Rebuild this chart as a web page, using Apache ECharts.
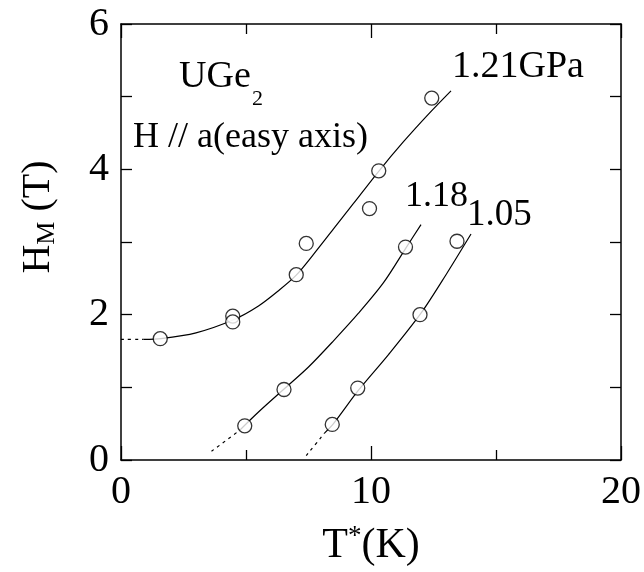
<!DOCTYPE html>
<html>
<head>
<meta charset="utf-8">
<script src="https://cdn.jsdelivr.net/npm/echarts@6/dist/echarts.min.js"></script>
<style>html,body{margin:0;padding:0;background:#fff}#c{width:644px;height:572px}</style>
</head>
<body>
<div id="c"></div>
<script>
// measured points (T*, H_M)
var t121 = [1.57, 4.47, 4.47, 7.01, 7.41, 9.94, 10.31, 12.43];
var h121 = [1.67, 1.98, 1.90, 2.55, 2.98, 3.46, 3.98, 4.98];
var t118 = [4.95, 6.52, 11.38];
var h118 = [0.47, 0.97, 2.93];
var t105 = [8.45, 9.47, 11.96, 13.44];
var h105 = [0.49, 0.99, 2.00, 3.01];

// guide curves
var c121T = [0.9, 1.6, 3.0, 4.5, 5.5, 6.3, 7.0, 7.7, 8.5, 9.3, 10.3, 11.3, 12.3, 13.2];
var c121H = [1.66, 1.67, 1.75, 1.93, 2.12, 2.33, 2.54, 2.83, 3.18, 3.53, 3.97, 4.38, 4.76, 5.08];
var d121T = [0.0, 0.9];
var d121H = [1.66, 1.66];

var c118T = [4.75, 5.5, 6.5, 7.5, 8.5, 9.5, 10.5, 11.4, 12.0];
var c118H = [0.41, 0.66, 0.97, 1.28, 1.64, 2.02, 2.44, 2.92, 3.24];
var d118T = [3.62, 4.75];
var d118H = [0.12, 0.41];

var c105T = [8.14, 8.5, 9.5, 10.7, 12.0, 13.0, 14.0];
var c105H = [0.37, 0.50, 0.96, 1.45, 2.02, 2.55, 3.11];
var d105T = [7.41, 8.14];
var d105H = [0.06, 0.37];

var xTicks = [0, 10, 20];
var yTicks = [0, 2, 4, 6];

function pairs(a, b) { return a.map(function (v, i) { return [v, b[i]]; }); }

var FONT = '"Liberation Serif", "DejaVu Serif", serif';
var chart = echarts.init(document.getElementById('c'), null, {renderer: 'canvas'});

function xAx(pos, labels) {
  return {
    type: 'value', position: pos, min: xTicks[0], max: xTicks[xTicks.length - 1], interval: 10,
    axisLine: {show: true, onZero: false, lineStyle: {color: '#000', width: 1.5}},
    axisTick: {show: true, inside: true, length: 14, lineStyle: {color: '#000', width: 1.3}},
    minorTick: {show: true, splitNumber: 2, length: 10, lineStyle: {color: '#000', width: 1.3}},
    splitLine: {show: false},
    axisLabel: {show: labels, color: '#000', fontFamily: FONT, fontSize: 40, margin: 12},
    name: labels ? '{b|T}{sup|*}{b|(K)}' : '',
    nameLocation: 'middle', nameGap: 63,
    nameTextStyle: {rich: {
      b: {fontFamily: FONT, fontSize: 42, color: '#000', lineHeight: 46},
      sup: {fontFamily: FONT, fontSize: 27, color: '#000', verticalAlign: 'top', lineHeight: 27}
    }}
  };
}
function yAx(pos, labels) {
  return {
    type: 'value', position: pos, min: yTicks[0], max: yTicks[yTicks.length - 1], interval: 2,
    axisLine: {show: true, onZero: false, lineStyle: {color: '#000', width: 1.5}},
    axisTick: {show: true, inside: true, length: 11, lineStyle: {color: '#000', width: 1.3}},
    minorTick: {show: true, splitNumber: 2, length: 11, lineStyle: {color: '#000', width: 1.3}},
    splitLine: {show: false},
    axisLabel: {show: labels, color: '#000', fontFamily: FONT, fontSize: 40, margin: 12}
  };
}

function curve(T, H, dashed) {
  return {
    type: 'line', data: pairs(T, H), smooth: 0.3, symbol: 'none', silent: true,
    lineStyle: {color: '#000', width: 1.2, type: dashed ? [3, 4] : 'solid'}, z: 2
  };
}
function pts(T, H) {
  return {
    type: 'scatter', data: pairs(T, H), symbol: 'circle', symbolSize: 14,
    itemStyle: {color: '#fff', borderColor: '#000', borderWidth: 1.3}, z: 5
  };
}

var option = {
  backgroundColor: '#fff',
  animation: false,
  grid: {left: 121, right: 22, top: 24, bottom: 109, containLabel: false},
  xAxis: [xAx('bottom', true), xAx('top', false)],
  yAxis: [yAx('left', true), yAx('right', false)],
  series: [
    curve(d121T, d121H, true), curve(c121T, c121H, false),
    curve(d118T, d118H, true), curve(c118T, c118H, false),
    curve(d105T, d105H, true), curve(c105T, c105H, false),
    pts(t121, h121), pts(t118, h118), pts(t105, h105)
  ],
  graphic: [
    {type: 'text', x: 38, y: 217, rotation: Math.PI / 2, style: {
      text: '{b|H}{sub|M}{b| (T)}', align: 'center', verticalAlign: 'middle', rich: {
        b: {fontFamily: FONT, fontSize: 40, fill: '#000', lineHeight: 44},
        sub: {fontFamily: FONT, fontSize: 26, fill: '#000', verticalAlign: 'bottom', lineHeight: 26}
      }}},
    {type: 'text', left: 179, top: 58, style: {
      text: 'UGe', font: '38px ' + FONT, fill: '#000'}},
    {type: 'text', left: 252, top: 88, style: {
      text: '2', font: '22px ' + FONT, fill: '#000'}},
    {type: 'text', left: 133, top: 120, style: {
      text: 'H // a(easy axis)', font: '36px ' + FONT, fill: '#000'}},
    {type: 'text', left: 452, top: 48, style: {
      text: '1.21GPa', font: '38px ' + FONT, fill: '#000'}},
    {type: 'text', left: 405, top: 179, style: {
      text: '1.18', font: '36px ' + FONT, fill: '#000'}},
    {type: 'text', left: 467, top: 197, style: {
      text: '1.05', font: '37px ' + FONT, fill: '#000'}}
  ]
};
chart.setOption(option);
</script>
</body>
</html>
